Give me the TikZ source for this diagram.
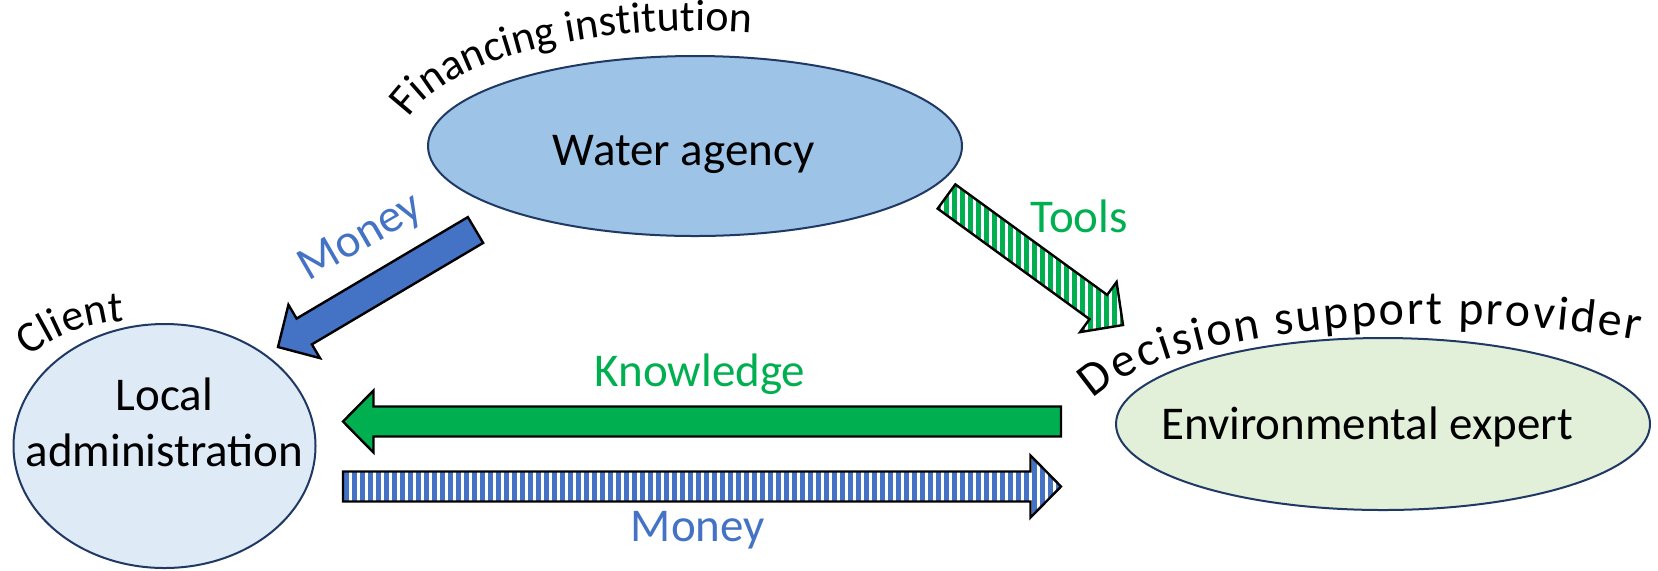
\documentclass[tikz,border=0pt]{standalone}
\usepackage{fontspec}
\setmainfont{Carlito}
\usetikzlibrary{calc,shapes.geometric,decorations.text,patterns}

\definecolor{ovalline}{RGB}{31,56,100}
\definecolor{wafill}{RGB}{157,195,230}
\definecolor{lafill}{RGB}{222,235,247}
\definecolor{eefill}{RGB}{226,240,217}
\definecolor{flowgreen}{RGB}{0,176,80}
\definecolor{flowblue}{RGB}{68,114,196}

\newcommand\mainsize{\fontsize{23.5pt}{28pt}\selectfont}
\newcommand\arcsize{\fontsize{22pt}{26pt}\selectfont}
\newcommand\widearcsize{\fontsize{24pt}{28pt}\selectfont}

% text inside an oval: horizontal shift (doubled), baseline offset, content
\newcommand\ovaltext[3]{\raisebox{#2}[0pt][0pt]{\makebox[0pt]{\hspace{#1}#3}}}

% vertical stripes for the hatched flows
\pgfdeclarepatternformonly{vstripes}{\pgfqpoint{-1pt}{-1pt}}{\pgfqpoint{5pt}{5pt}}{\pgfqpoint{4pt}{4pt}}{%
  \pgfpathrectangle{\pgfqpoint{0pt}{-1pt}}{\pgfqpoint{2.4pt}{6pt}}%
  \pgfusepath{fill}}

% block arrow: #1 style, #2 tail, #3 tip, #4 prefix for helper coordinate
\newcommand\blockarrow[4]{%
  \coordinate (#4hb) at ($(#3)!15.25pt!(#2)$);
  \draw[#1] ($(#2)!7.5pt!90:(#3)$) -- ($(#4hb)!7.5pt!90:(#3)$)
    -- ($(#4hb)!15.5pt!90:(#3)$) -- (#3) -- ($(#4hb)!15.5pt!-90:(#3)$)
    -- ($(#4hb)!7.5pt!-90:(#3)$) -- ($(#2)!7.5pt!-90:(#3)$) -- cycle;
}

\begin{document}
\begin{tikzpicture}[x=0.5pt,y=0.5pt,
  oval/.style={ellipse, draw=ovalline, line width=1pt, inner sep=0pt, font=\mainsize},
  flow/.style={draw=black, line width=1.2pt},
  flowlabel/.style={font=\mainsize, inner sep=0pt, anchor=base},
  arclabel/.style={decorate, decoration={text along path, text align={fit to path}, text={#1}}}]

\fill[white] (0,0) rectangle (1658,-570);
\useasboundingbox (0,0) rectangle (1658,-570);

% actors
\node[oval, fill=wafill, minimum width=267pt, minimum height=90pt] (wa) at (695,-146)
  {\ovaltext{-11.5pt}{-9.5pt}{Water agency}};
\node[oval, fill=lafill, minimum width=151pt, minimum height=122pt] (la) at (164.5,-446)
  {\ovaltext{0pt}{-10pt}{\begin{tabular}[b]{@{}c@{}}Local\\administration\end{tabular}}};
\node[oval, fill=eefill, minimum width=267pt, minimum height=86pt] (ee) at (1383,-424)
  {\ovaltext{-16pt}{-7.5pt}{Environmental expert}};

% roles written along arcs
\path[arclabel={|\arcsize|Financing institution}]
  ($(wa.center)+(166:295 and 115)$) arc[start angle=166, end angle=79, x radius=295, y radius=115];
\coordinate (dspArc) at (1443,-424);
\path[arclabel={|\widearcsize|Decision support provider}]
  ($(dspArc)+(166:360 and 100)$) arc[start angle=166, end angle=57, x radius=360, y radius=100];
\coordinate (clientArc) at (130,-482);
\path[arclabel={|\arcsize|Client}]
  ($(clientArc)+(129:161)$) arc[start angle=129, end angle=92, radius=161];

% flows
\coordinate (knowTail) at (1061,-421.5);
\coordinate (knowTip) at (343,-421.5);
\blockarrow{flow, fill=flowgreen}{knowTail}{knowTip}{know}

\coordinate (payTail) at (343,-486.5);
\coordinate (payTip) at (1061,-486.5);
\blockarrow{flow, pattern=vstripes, pattern color=flowblue}{payTail}{payTip}{pay}

\coordinate (fundTail) at (475.5,-230);
\coordinate (fundTip) at (278,-347);
\blockarrow{flow, fill=flowblue}{fundTail}{fundTip}{fund}

\coordinate (toolTail) at (946.5,-196.5);
\coordinate (toolTip) at (1123,-325);
\blockarrow{flow, pattern=vstripes, pattern color=flowgreen}{toolTail}{toolTip}{tool}

% flow labels
\node[flowlabel, text=flowgreen] (knowLabel) at (700,-386) {Knowledge};
\node[flowlabel, text=flowblue] (payLabel) at (698,-541) {Money};
\node[flowlabel, text=flowgreen] (toolLabel) at (1079,-232) {Tools};
\node[flowlabel, text=flowblue, rotate=30] (fundLabel) at (367,-248) {Money};
\end{tikzpicture}
\end{document}
